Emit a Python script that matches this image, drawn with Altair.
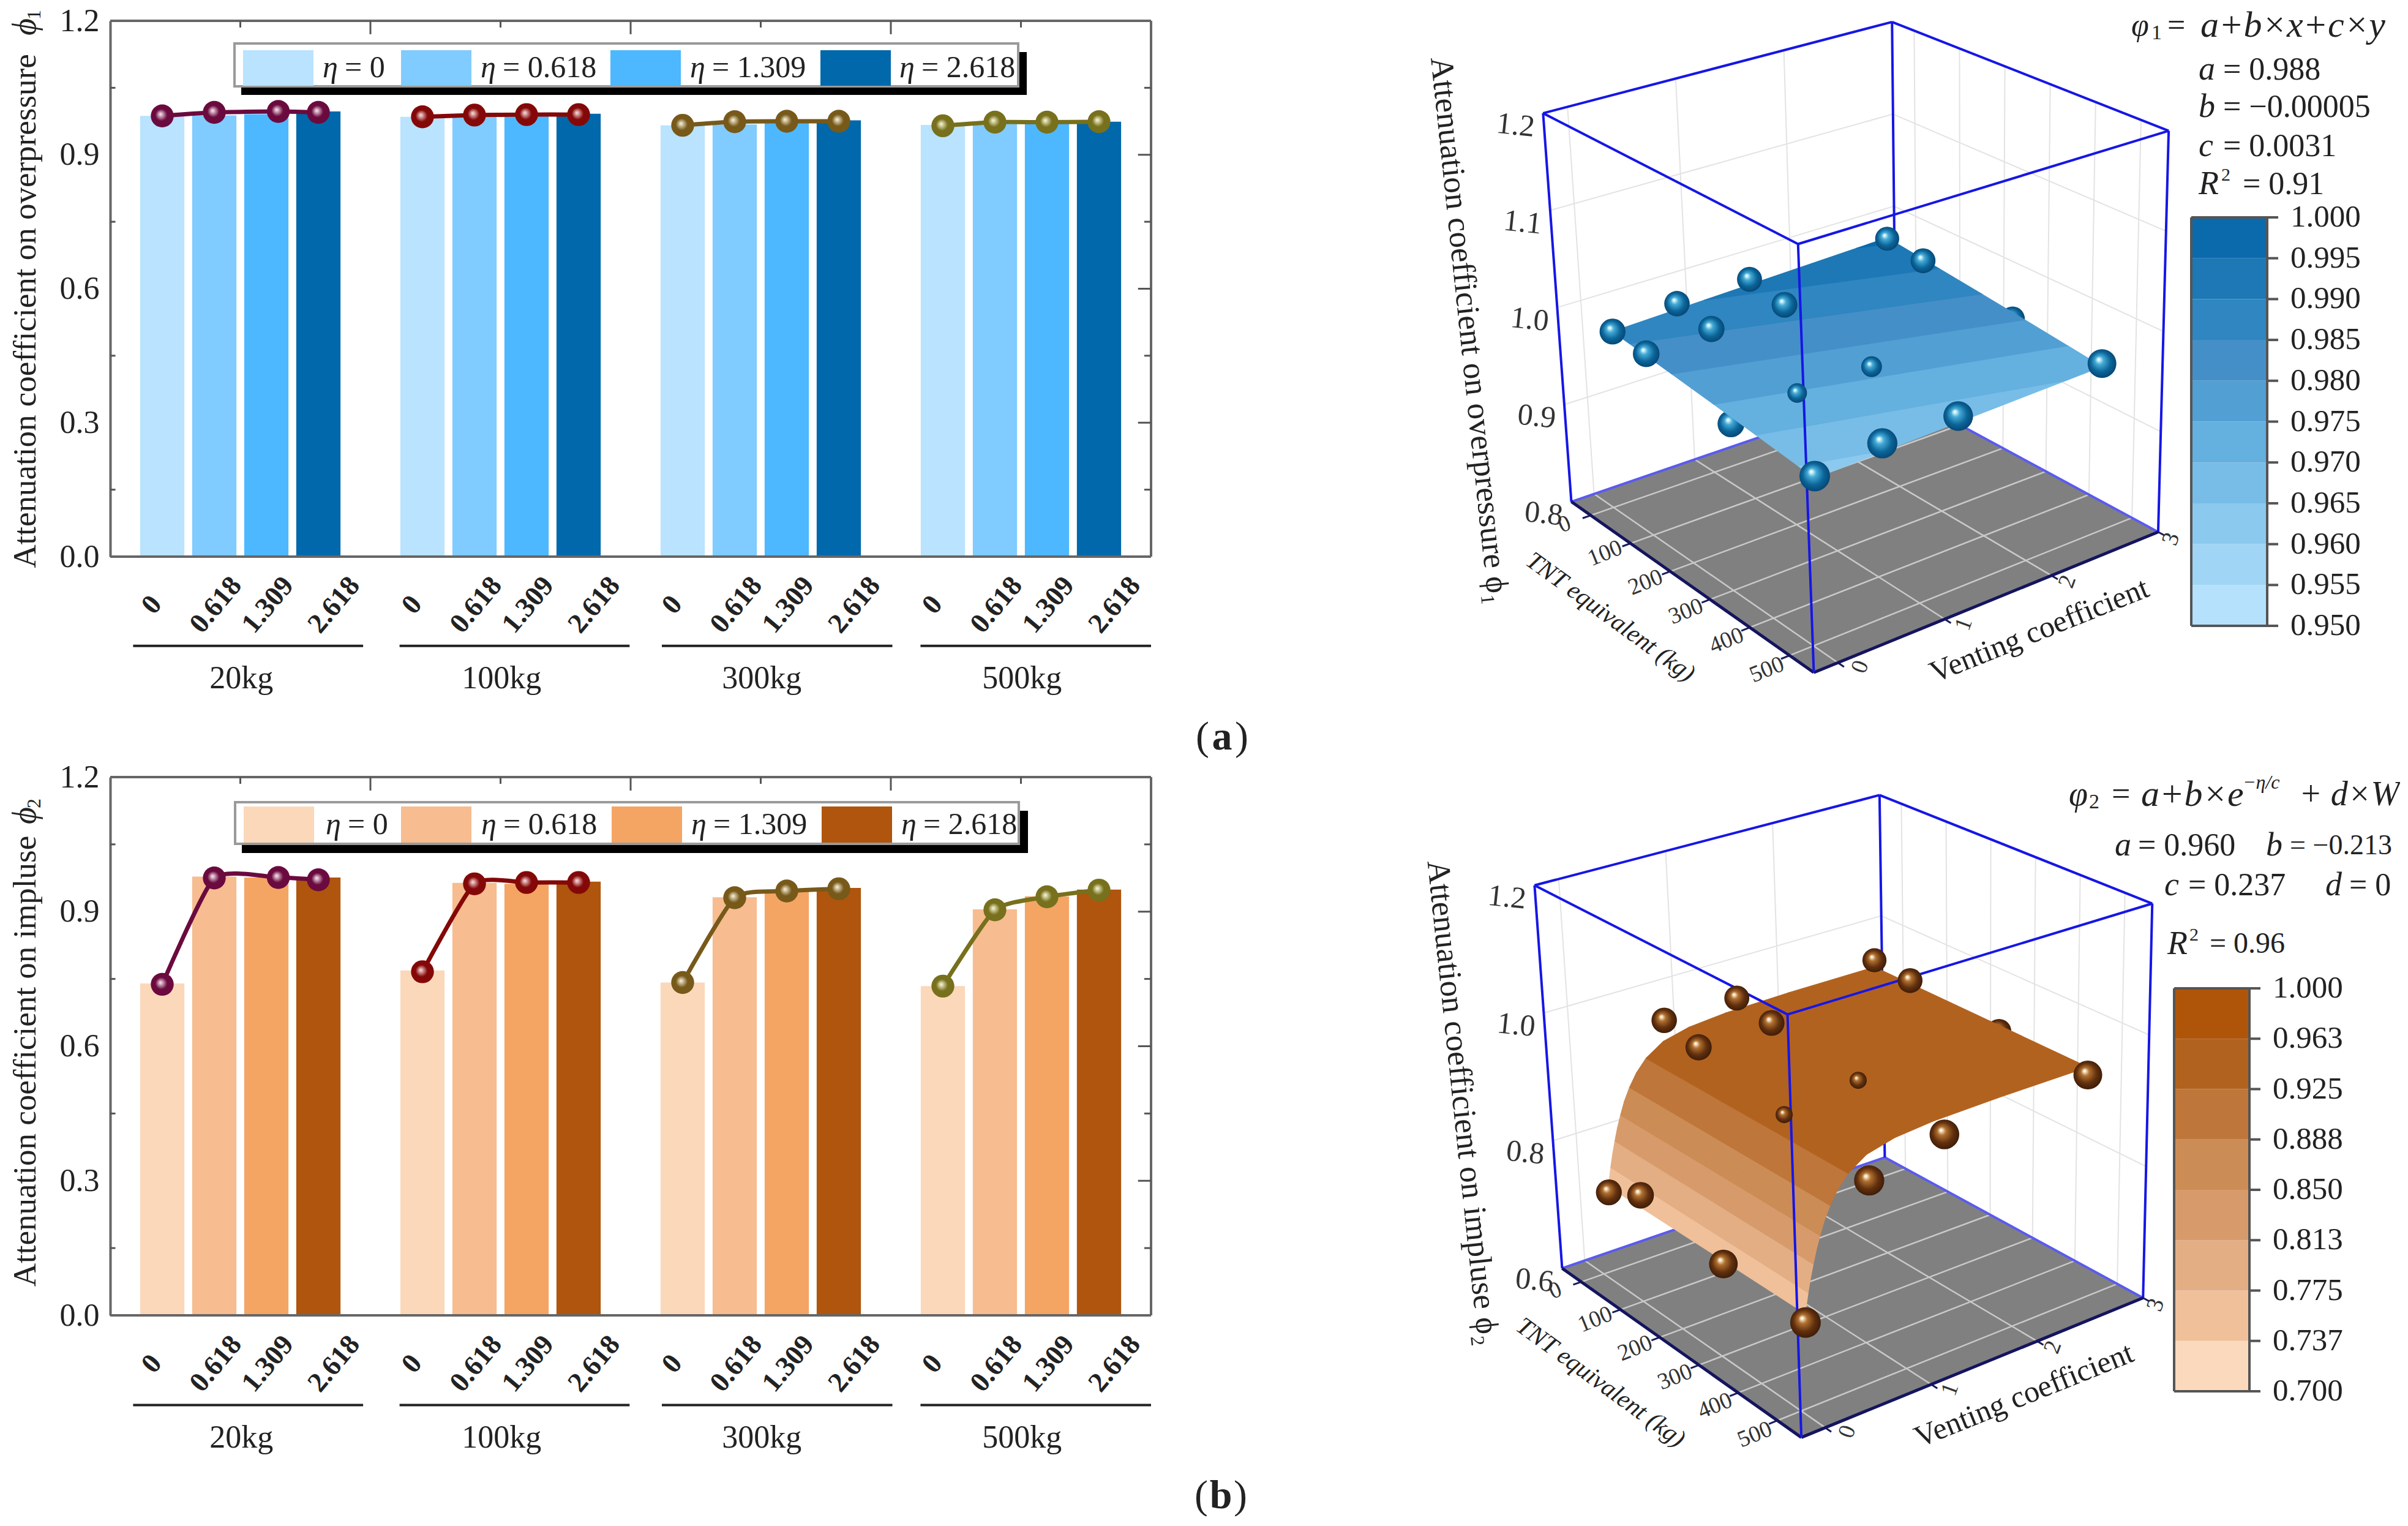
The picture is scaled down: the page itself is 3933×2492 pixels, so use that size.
import altair as alt
import pandas as pd

FONT = "Liberation Serif"

# ---------------- values ----------------
GROUPS = ["20kg", "100kg", "300kg", "500kg"]
ETA_LABELS = ["0", "0.618", "1.309", "2.618"]
ETA = [0, 0.618, 1.309, 2.618]
W_VALUES = [20, 100, 300, 500]

BARS_A = [[.987, .988, .991, .997], [.985, .988, .990, .992], [.966, .968, .971, .977], [.967, .969, .972, .974]]
PTS_A = [[.987, .995, .997, .995], [.985, .989, .990, .990], [.966, .974, .975, .975], [.965, .973, .973, .974]]
BARS_B = [[.740, .978, .976, .976], [.769, .964, .962, .967], [.742, .932, .945, .953], [.734, .905, .934, .949]]
PTS_B = [[.738, .975, .976, .971], [.766, .962, .965, .965], [.742, .931, .946, .951], [.734, .904, .933, .948]]

SURF_A_CORNERS = [(0, 20, .987), (2.618, 20, .996), (2.618, 500, .971), (0, 500, .963)]
CB_A = [.95, .955, .96, .965, .97, .975, .98, .985, .99, .995, 1.0]
CB_A_LABELS = ["0.950", "0.955", "0.960", "0.965", "0.970", "0.975", "0.980", "0.985", "0.990", "0.995", "1.000"]
CB_B = [.70, .7375, .775, .8125, .85, .8875, .925, .9625, 1.0]
CB_B_LABELS = ["0.700", "0.737", "0.775", "0.813", "0.850", "0.888", "0.925", "0.963", "1.000"]
PROFILE_ETA = [0, .015, .033, .06, .088, .12, .157, .2, .257, .33, .428, .6, .85, 1.2, 1.8, 2.618]
PROFILE_PHI = [.747, .76, .775, .795, .813, .832, .85, .869, .888, .907, .925, .943, .953, .958, .96, .96]

# ---------------- styles ----------------
BAR_A = ["#B9E3FF", "#80CBFF", "#4DB8FF", "#0068AB"]
BAR_B = ["#FBD8BA", "#F7BC8F", "#F4A564", "#AF550D"]
LINE_COL = ["#6B0A3E", "#840808", "#77591A", "#77701C"]
BAND_A = ["#B5E1FC", "#A0D5F5", "#8CC9EE", "#78BDE7", "#64B0DF", "#529FD4", "#458FC8", "#2F86C0", "#1D78B5", "#0A6AAC"]
BAND_B = ["#FBD9BC", "#F0C09A", "#E3AE84", "#D79B6B", "#CC8C55", "#BE763A", "#B2621F", "#AF550A"]
SPHERE_BLUE = ["#E4FDFF", "#45AAD6", "#0B6599", "#053F6C"]
SPHERE_BROWN = ["#FFF6E0", "#B0702F", "#62300E", "#341706"]


def sphere_fill(stops):
    return alt.RadialGradient(
        gradient="radial", x1=.38, y1=.35, r1=0, x2=.5, y2=.5, r2=.56,
        stops=[alt.GradientStop(color=stops[0], offset=0.05), alt.GradientStop(color=stops[1], offset=.26),
               alt.GradientStop(color=stops[2], offset=.62), alt.GradientStop(color=stops[3], offset=1)])


def text_layers(rows, xs, ys, yax=None):
    """rows: dicts x,y,text,size,angle,(style,weight,align)"""
    df = pd.DataFrame(rows)
    for c, d in (("style", "normal"), ("weight", "normal"), ("align", "left"), ("color", "#222222")):
        if c not in df:
            df[c] = d
        df[c] = df[c].fillna(d)
    if "angle" not in df:
        df["angle"] = 0
    df["angle"] = df["angle"].fillna(0)
    out = []
    for (st, we, al), sub in df.groupby(["style", "weight", "align"]):
        out.append(alt.Chart(sub).mark_text(font=FONT, fontStyle=st, fontWeight=we, align=al, baseline="middle").encode(
            x=alt.X("x:Q", scale=xs, axis=None), y=alt.Y("y:Q", scale=ys, axis=yax, title=None),
            text="text:N", size=alt.Size("size:Q", scale=None, legend=None),
            angle=alt.Angle("angle:Q", scale=None), color=alt.Color("color:N", scale=None, legend=None)))
    return out


def bar_panel(bars, pts, bar_cols, L, R, T, B, legend, title, sym, sub, title_c, sym_y, caption, cap_y):
    W, H = R - L, B - T
    xs = alt.Scale(domain=[0, 20], nice=False, zero=False)
    ys = alt.Scale(domain=[0, 1.2], nice=False, zero=False)
    px = lambda p: (p - L) / W * 20
    py = lambda p: (B - p) / H * 1.2
    yax = alt.Axis(values=[0, .3, .6, .9, 1.2], format=".1f", labelFont=FONT, labelFontSize=52, labelColor="#222222",
                   ticks=False, domainColor="#666666", domainWidth=4, labelPadding=18, grid=False, title=None)
    Y = lambda f: alt.Y(f, scale=ys, axis=yax, title=None)

    rec, line = [], []
    for g in range(4):
        for e in range(4):
            c = 5 * g + e + 1
            rec.append(dict(x0=c - .425, x1=c + .425, v=bars[g][e], z=0, col=bar_cols[e]))
            xp = c + (.23 if (g == 0 and e == 2) else 0)
            line.append(dict(x=xp, v=pts[g][e], g=g, col=LINE_COL[g]))
    bars_l = alt.Chart(pd.DataFrame(rec)).mark_rect().encode(
        x=alt.X("x0:Q", scale=xs, axis=None), x2="x1:Q",
        y=Y("v:Q"), y2="z:Q", color=alt.Color("col:N", scale=None, legend=None))

    layers = [bars_l]
    ldf = pd.DataFrame(line)
    for g in range(4):
        sub_df = ldf[ldf.g == g]
        layers.append(alt.Chart(sub_df).mark_line(strokeWidth=7, color=LINE_COL[g], interpolate="cardinal", tension=.45).encode(
            x=alt.X("x:Q", scale=xs, axis=None), y=Y("v:Q")))
        hi = {0: "#F0D8E4", 1: "#F2CFCF", 2: "#EFE6CC", 3: "#EFEDC8"}[g]
        layers.append(alt.Chart(sub_df).mark_circle(size=1400, opacity=1, fill=alt.RadialGradient(
            gradient="radial", x1=.42, y1=.42, r1=0, x2=.5, y2=.5, r2=.52,
            stops=[alt.GradientStop(color=hi, offset=.05), alt.GradientStop(color=LINE_COL[g], offset=.5),
                   alt.GradientStop(color=LINE_COL[g], offset=1)])).encode(
            x=alt.X("x:Q", scale=xs, axis=None), y=Y("v:Q")))

    # frame and inward ticks
    frame = pd.DataFrame([
        dict(x=0, x2=20, y=1.2, y2=1.2), dict(x=20, x2=20, y=0, y2=1.2), dict(x=0, x2=20, y=0, y2=0)])
    ticks = []
    for v in [.3, .6, .9]:
        ticks.append(dict(x=19.75, x2=20, y=v, y2=v))
    for v in [.15, .45, .75, 1.05]:
        ticks.append(dict(x=19.87, x2=20, y=v, y2=v))
        ticks.append(dict(x=0, x2=.1, y=v, y2=v))
    for v in [5, 10, 15]:
        ticks.append(dict(x=v, x2=v, y=1.17, y2=1.2))
    for v in [2.5, 7.5, 12.5, 17.5]:
        ticks.append(dict(x=v, x2=v, y=1.185, y2=1.2))
    seps = [(.44, 4.86), (5.56, 9.98), (10.6, 15.03), (15.57, 20)]
    for rows, col, wd in ((frame.to_dict("records"), "#666666", 4), (ticks, "#555555", 3),
                          ([dict(x=a, x2=b, y=-.2, y2=-.2) for a, b in seps], "#222222", 4)):
        layers.append(alt.Chart(pd.DataFrame(rows)).mark_rule(color=col, strokeWidth=wd).encode(
            x=alt.X("x:Q", scale=xs, axis=None), x2="x2:Q",
            y=Y("y:Q"), y2="y2:Q"))

    # legend box
    lg = legend
    rects = [dict(x0=px(lg["sx0"]), x1=px(lg["sx1"]), y0=py(lg["sy0"]), y1=py(lg["sy1"]), col="#000000"),
             dict(x0=px(lg["bx0"]), x1=px(lg["bx1"]), y0=py(lg["by0"]), y1=py(lg["by1"]), col="#9A9A9A"),
             dict(x0=px(lg["bx0"] + 4), x1=px(lg["bx1"] - 4), y0=py(lg["by0"] + 4), y1=py(lg["by1"] - 4), col="#FFFFFF")]
    for i in range(4):
        rects.append(dict(x0=px(lg["swx"][i]), x1=px(lg["swx"][i] + 115), y0=py(lg["swy0"]), y1=py(lg["swy1"]), col=bar_cols[i]))
    layers.append(alt.Chart(pd.DataFrame(rects)).mark_rect().encode(
        x=alt.X("x0:Q", scale=xs, axis=None), x2="x1:Q", y=Y("y0:Q"), y2="y1:Q",
        color=alt.Color("col:N", scale=None, legend=None)))

    txt = []
    ym = (lg["swy0"] + lg["swy1"]) / 2
    for i, lab in enumerate(ETA_LABELS):
        txt.append(dict(x=px(lg["tx"][i]), y=py(ym), text="η", size=50, style="italic"))
        txt.append(dict(x=px(lg["tx"][i] + 36), y=py(ym), text="= " + lab, size=50))
    for g in range(4):
        base = 5 * g
        for e, lab in enumerate(ETA_LABELS):
            dx = [.8, 2.03, 3.03, 4.3][e]
            txt.append(dict(x=base + dx, y=-.108, text=lab, size=46, angle=310, weight="bold", align="center"))
        txt.append(dict(x=base + 2.52, y=-.273, text=GROUPS[g], size=52, align="center"))
    txt.append(dict(x=px(40 + (L - 178)), y=py(title_c), text=title, size=53, angle=270, align="center"))
    txt.append(dict(x=px(40 + (L - 178)), y=py(sym_y), text=sym, size=54, angle=270, align="center", style="italic"))
    txt.append(dict(x=px(54 + (L - 178)), y=py(sym_y - 20), text=sub, size=32, angle=270, align="center"))
    for ch, off, we in (("(", -32, "normal"), (caption, 0, "bold"), (")", 32, "normal")):
        txt.append(dict(x=px(1994 + off), y=py(cap_y), text=ch, size=66, align="center", weight=we))
    layers += text_layers(txt, xs, ys, yax)
    return alt.layer(*layers).properties(width=W, height=H)


def panel3d(corners, surf_feats, pts, hidden_under, small_top, sphere, ox, oy, w, h, zmin, zticks, cb, cb_vals, cb_labels,
            cb_cols, texts, line_blue="#1616E6"):
    L0, B0, R0, F0, L1, B1, R1, F1 = corners

    def P(u, v, z):
        def bil(a, b, c, d):  # a=L b=B c=R d=F
            return ((1 - u) * (1 - v) * a[0] + u * (1 - v) * b[0] + u * v * c[0] + (1 - u) * v * d[0],
                    (1 - u) * (1 - v) * a[1] + u * (1 - v) * b[1] + u * v * c[1] + (1 - u) * v * d[1])
        p0, p1 = bil(L0, B0, R0, F0), bil(L1, B1, R1, F1)
        return p0[0] + (p1[0] - p0[0]) * z, p0[1] + (p1[1] - p0[1]) * z

    fu = lambda eta: .07 + .31 * eta
    fv = lambda W: .08 + .164 * W / 100
    sv = lambda W: .09 + .168 * W / 100     # data sit a little nearer the viewer than the grid
    fz = lambda phi: (phi - zmin) / .4 if zmin == .8 else (phi - zmin) / .6
    Q = lambda eta, W, phi: P(fu(eta), sv(W), fz(phi))

    xs = alt.Scale(domain=[ox, ox + w], nice=False, zero=False)
    ys = alt.Scale(domain=[oy + h, oy], nice=False, zero=False)
    proj = dict(type="identity", scale=1, translate=[0, 0])

    def poly(features):
        return alt.Chart(alt.Data(values=features)).mark_geoshape(strokeWidth=1.2, clip=False).encode(
            color=alt.Color("properties.c:N", scale=None, legend=None),
            stroke=alt.Color("properties.c:N", scale=None, legend=None)).project(**proj)

    def feat(points, c):
        ring = [[p[0] - ox, p[1] - oy] for p in points]
        ring.append(ring[0])
        return dict(type="Feature", properties=dict(c=c), geometry=dict(type="Polygon", coordinates=[ring]))

    def lines(segs, col, wd):
        rows = []
        for i, (a, b) in enumerate(segs):
            rows.append(dict(x=a[0], y=a[1], x2=b[0], y2=b[1]))
        return alt.Chart(pd.DataFrame(rows)).mark_rule(color=col, strokeWidth=wd).encode(
            x=alt.X("x:Q", scale=xs, axis=None), x2="x2:Q", y=alt.Y("y:Q", scale=ys, axis=None), y2="y2:Q")

    def spheres(rows):
        df = pd.DataFrame(rows, columns=["x", "y", "size"])
        return alt.Chart(df).mark_circle(opacity=1, fill=sphere_fill(sphere)).encode(
            x=alt.X("x:Q", scale=xs, axis=None), y=alt.Y("y:Q", scale=ys, axis=None),
            size=alt.Size("size:Q", scale=None, legend=None))

    layers = [poly([feat([L0, B0, R0, F0], "#808080")])]
    etas, ws = [0, 1, 2, 3], [0, 100, 200, 300, 400, 500]
    wall, floor_ = [], []
    for e in etas:
        floor_.append((P(fu(e), 0, 0), P(fu(e), 1, 0)))
        wall.append((P(fu(e), 0, 0), P(fu(e), 0, 1)))
    for W in ws:
        floor_.append((P(0, fv(W), 0), P(1, fv(W), 0)))
        wall.append((P(1, fv(W), 0), P(1, fv(W), 1)))
    for z in zticks:
        zf = fz(z)
        wall.append((P(0, 0, zf), P(1, 0, zf)))
        wall.append((P(1, 0, zf), P(1, 1, zf)))
    layers.append(lines(wall, "#E3E3E3", 2))
    layers.append(lines(floor_, "#C9C9C9", 2.5))
    layers.append(lines([(L0, B0), (B0, R0)], "#5A5AF0", 4))
    layers.append(lines([(L0, L1), (R0, R1), (B0, B1)], line_blue, 4))
    # axis ticks
    tk = []
    for W in ws:
        tk.append((P(0, fv(W), 0), P(-.025, fv(W), 0)))
    for e in etas:
        tk.append((P(fu(e), 1, 0), P(fu(e), 1.025, 0)))
    layers.append(lines(tk, "#1A1A5A", 3))
    layers.append(lines([(L0, F0), (F0, R0)], "#14145E", 5))

    under = [(Q(ETA[e], W_VALUES[g], pts[g][e]), r) for (g, e, r) in hidden_under]
    layers.append(spheres([dict(x=p[0], y=p[1], size=(2 * r) ** 2) for p, r in under]))
    layers.append(poly([feat([Q(*c) for c in poly3], col) for poly3, col in surf_feats]))
    layers.append(lines([(F0, F1), (L1, B1), (B1, R1), (R1, F1), (F1, L1)], line_blue, 4))
    # remaining spheres on top
    done = {(g, e) for g, e, r in hidden_under}
    small = {(g, e): r for g, e, r in small_top}
    top = []
    for g in range(4):
        for e in range(4):
            if (g, e) in done:
                continue
            q = Q(ETA[e], W_VALUES[g], pts[g][e])
            r = small.get((g, e), 21 + 4 * W_VALUES[g] / 500 - 1.5 * ETA[e] / 2.618)
            top.append(dict(x=q[0], y=q[1], size=(2 * r) ** 2))
    layers.append(spheres(top))

    # colour bar
    x0, x1, ytop, ybot = cb
    vmin, vmax = cb_vals[0], cb_vals[-1]
    yv = lambda v: ybot + (v - vmin) / (vmax - vmin) * (ytop - ybot)
    rects = []
    for i in range(len(cb_vals) - 1):
        rects.append(dict(x0=x0, x1=x1, y0=yv(cb_vals[i]), y1=yv(cb_vals[i + 1]), col=cb_cols[i]))
    layers.append(alt.Chart(pd.DataFrame(rects)).mark_rect().encode(
        x=alt.X("x0:Q", scale=xs, axis=None), x2="x1:Q", y=alt.Y("y0:Q", scale=ys, axis=None), y2="y1:Q",
        color=alt.Color("col:N", scale=None, legend=None)))
    segs = [((x0, ytop), (x0, ybot)), ((x1, ytop), (x1, ybot)), ((x0, ybot), (x1, ybot))]
    segs += [((x0, yv(v)), (x1 + 18, yv(v))) if v == vmax else ((x1, yv(v)), (x1 + 18, yv(v))) for v in cb_vals]
    layers.append(lines(segs, "#555555", 4))

    rows = list(texts)
    for v, lab in zip(cb_vals, cb_labels):
        rows.append(dict(x=x1 + 38, y=yv(v), text=lab, size=51))
    for z in zticks:
        p = P(0, 0, fz(z))
        rows.append(dict(x=p[0] - 45, y=p[1] + 20, text=f"{z:.1f}", size=50, angle=6, align="center", color="#333333"))
    for W in ws:
        p = P(-.08, .08 + .84 * W / 500, 0)
        rows.append(dict(x=p[0], y=p[1], text=str(W), size=38, angle=338, align="center", color="#333333"))
    for e in etas:
        p = P(.1 + .9 * e / 3, 1.05, 0)
        rows.append(dict(x=p[0], y=p[1], text=str(e), size=38, angle=290, align="center", color="#333333"))
    layers += text_layers(rows, xs, ys)
    return alt.layer(*layers).properties(width=w, height=h)


def zx_a(z): return 2250 + 1.0733 * z
def zy_a(z): return .797 * z
def zy_b(z): return 1230 + .805 * z


def clip_band(poly, lo, hi):
    def clip(pts, keep_above, lev):
        out = []
        for i in range(len(pts)):
            a, b = pts[i], pts[(i + 1) % len(pts)]
            ia = a[2] >= lev if keep_above else a[2] <= lev
            ib = b[2] >= lev if keep_above else b[2] <= lev
            if ia:
                out.append(a)
            if ia != ib:
                t = (lev - a[2]) / (b[2] - a[2])
                out.append((a[0] + t * (b[0] - a[0]), a[1] + t * (b[1] - a[1]), lev))
        return out
    p = clip(poly, True, lo)
    return clip(p, False, hi) if p else []


# ----- surface A bands
surf_a = []
for i in range(len(CB_A) - 1):
    pl = clip_band(SURF_A_CORNERS, CB_A[i], CB_A[i + 1])
    if len(pl) >= 3:
        surf_a.append((pl, BAND_A[i]))

# ----- surface B strips
surf_b = []
for i in range(len(PROFILE_ETA) - 1):
    mid = (PROFILE_PHI[i] + PROFILE_PHI[i + 1]) / 2
    k = max(j for j in range(len(CB_B) - 1) if CB_B[j] <= mid)
    e0, e1, p0, p1 = PROFILE_ETA[i], PROFILE_ETA[i + 1], PROFILE_PHI[i], PROFILE_PHI[i + 1]
    surf_b.append(([(e0, 20, p0), (e1, 20, p1), (e1, 500, p1), (e0, 500, p0)], BAND_B[k]))

corners_a = [(zx_a(x), zy_a(y)) for x, y in
             [(293, 1028), (787, 800), (1186, 1090), (662, 1378), (250, 232), (781, 45), (1202, 268), (638, 500)]]
corners_b = [(zx_a(x), zy_b(y)) for x, y in
             [(279, 1045), (770, 820), (1163, 1105), (643, 1388), (237, 268), (762, 85), (1177, 305), (622, 530)]]

texts_a = [
    dict(x=3479, y=42, text="φ", size=52, style="italic"), dict(x=3512, y=54, text="1", size=34),
    dict(x=3538, y=42, text="=", size=52), dict(x=3592, y=42, text="a+b×x+c×y", size=60, style="italic"),
    dict(x=3589, y=114, text="a", size=54, style="italic"), dict(x=3629, y=114, text="= 0.988", size=52),
    dict(x=3589, y=175, text="b", size=54, style="italic"), dict(x=3629, y=175, text="= −0.00005", size=52),
    dict(x=3589, y=239, text="c", size=54, style="italic"), dict(x=3629, y=239, text="= 0.0031", size=52),
    dict(x=3589, y=301, text="R", size=54, style="italic"), dict(x=3626, y=286, text="2", size=30),
    dict(x=3661, y=301, text="= 0.91", size=52),
    dict(x=2398, y=540, text="Attenuation coefficient on overpressure ϕ₁", size=53, angle=84, align="center"),
    dict(x=2628, y=1008, text="TNT equivalent (kg)", size=41, angle=36, align="center", style="italic"),
    dict(x=3329, y=1030, text="Venting coefficient", size=50, angle=338, align="center"),
]
texts_b = [
    dict(x=3377, y=1298, text="φ", size=56, style="italic"), dict(x=3410, y=1310, text="2", size=34),
    dict(x=3447, y=1298, text="=", size=54), dict(x=3495, y=1298, text="a+b×e", size=60, style="italic"),
    dict(x=3661, y=1278, text="−η/c", size=32, style="italic"), dict(x=3753, y=1298, text="+ d×W", size=56, style="italic"),
    dict(x=3452, y=1381, text="a", size=54, style="italic"), dict(x=3490, y=1381, text="= 0.960", size=52),
    dict(x=3699, y=1381, text="b", size=54, style="italic"), dict(x=3738, y=1381, text="= −0.213", size=46),
    dict(x=3533, y=1446, text="c", size=54, style="italic"), dict(x=3572, y=1446, text="= 0.237", size=52),
    dict(x=3796, y=1446, text="d", size=54, style="italic"), dict(x=3835, y=1446, text="= 0", size=52),
    dict(x=3538, y=1542, text="R", size=54, style="italic"), dict(x=3574, y=1527, text="2", size=30),
    dict(x=3607, y=1542, text="= 0.96", size=48),
    dict(x=2387, y=1801, text="Attenuation coefficient on impluse ϕ₂", size=53, angle=84, align="center"),
    dict(x=2612, y=2258, text="TNT equivalent (kg)", size=41, angle=36, align="center", style="italic"),
    dict(x=3304, y=2279, text="Venting coefficient", size=50, angle=338, align="center"),
]

leg_a = dict(bx0=379, bx1=1663, by0=69, by1=143, sx0=392, sx1=1675, sy0=85, sy1=155,
             swx=[395, 653, 995, 1338], swy0=82, swy1=140, tx=[525, 783, 1125, 1467])
leg_b = dict(bx0=382, bx1=1666, by0=1308, by1=1380, sx0=395, sx1=1679, sy0=1324, sy1=1393,
             swx=[398, 655, 999, 1342], swy0=1317, swy1=1376, tx=[532, 786, 1129, 1472])

A = bar_panel(BARS_A, PTS_A, BAR_A, 178, 1878, 34, 909, leg_a, "Attenuation coefficient on overpressure", "ϕ", "1",
              508, 44, "a", 1204)
Bp = bar_panel(BARS_B, PTS_B, BAR_B, 180, 1880, 1269, 2148, leg_b, "Attenuation coefficient on impluse", "ϕ", "2",
               1733, 1332, "b", 2443)

C = panel3d(corners_a, surf_a, PTS_A, [(2, 0, 22), (2, 3, 20)], [(2, 1, 16), (2, 2, 17)], SPHERE_BLUE,
            2250, 34, 1650, 875, .8, [.8, .9, 1.0, 1.1, 1.2], (3577, 3701, 355, 1022), CB_A, CB_A_LABELS, BAND_A, texts_a)
D = panel3d(corners_b, surf_b, PTS_B, [(2, 3, 20)], [(2, 1, 14), (2, 2, 14)], SPHERE_BROWN,
            2250, 1269, 1650, 879, .6, [.6, .8, 1.0, 1.2], (3549, 3672, 1614, 2272), CB_B, CB_B_LABELS, BAND_B, texts_b)

chart = alt.concat(A, C, Bp, D, columns=2, spacing=alt.RowColnumber(column=372, row=360), bounds="flush").properties(
    padding={"left": 7, "top": 0, "right": 0, "bottom": 0}, background="#FFFFFF"
).configure_view(stroke=None).configure_concat(spacing=0)

chart.save("out.html", embed_options={"renderer": "svg", "actions": False})
